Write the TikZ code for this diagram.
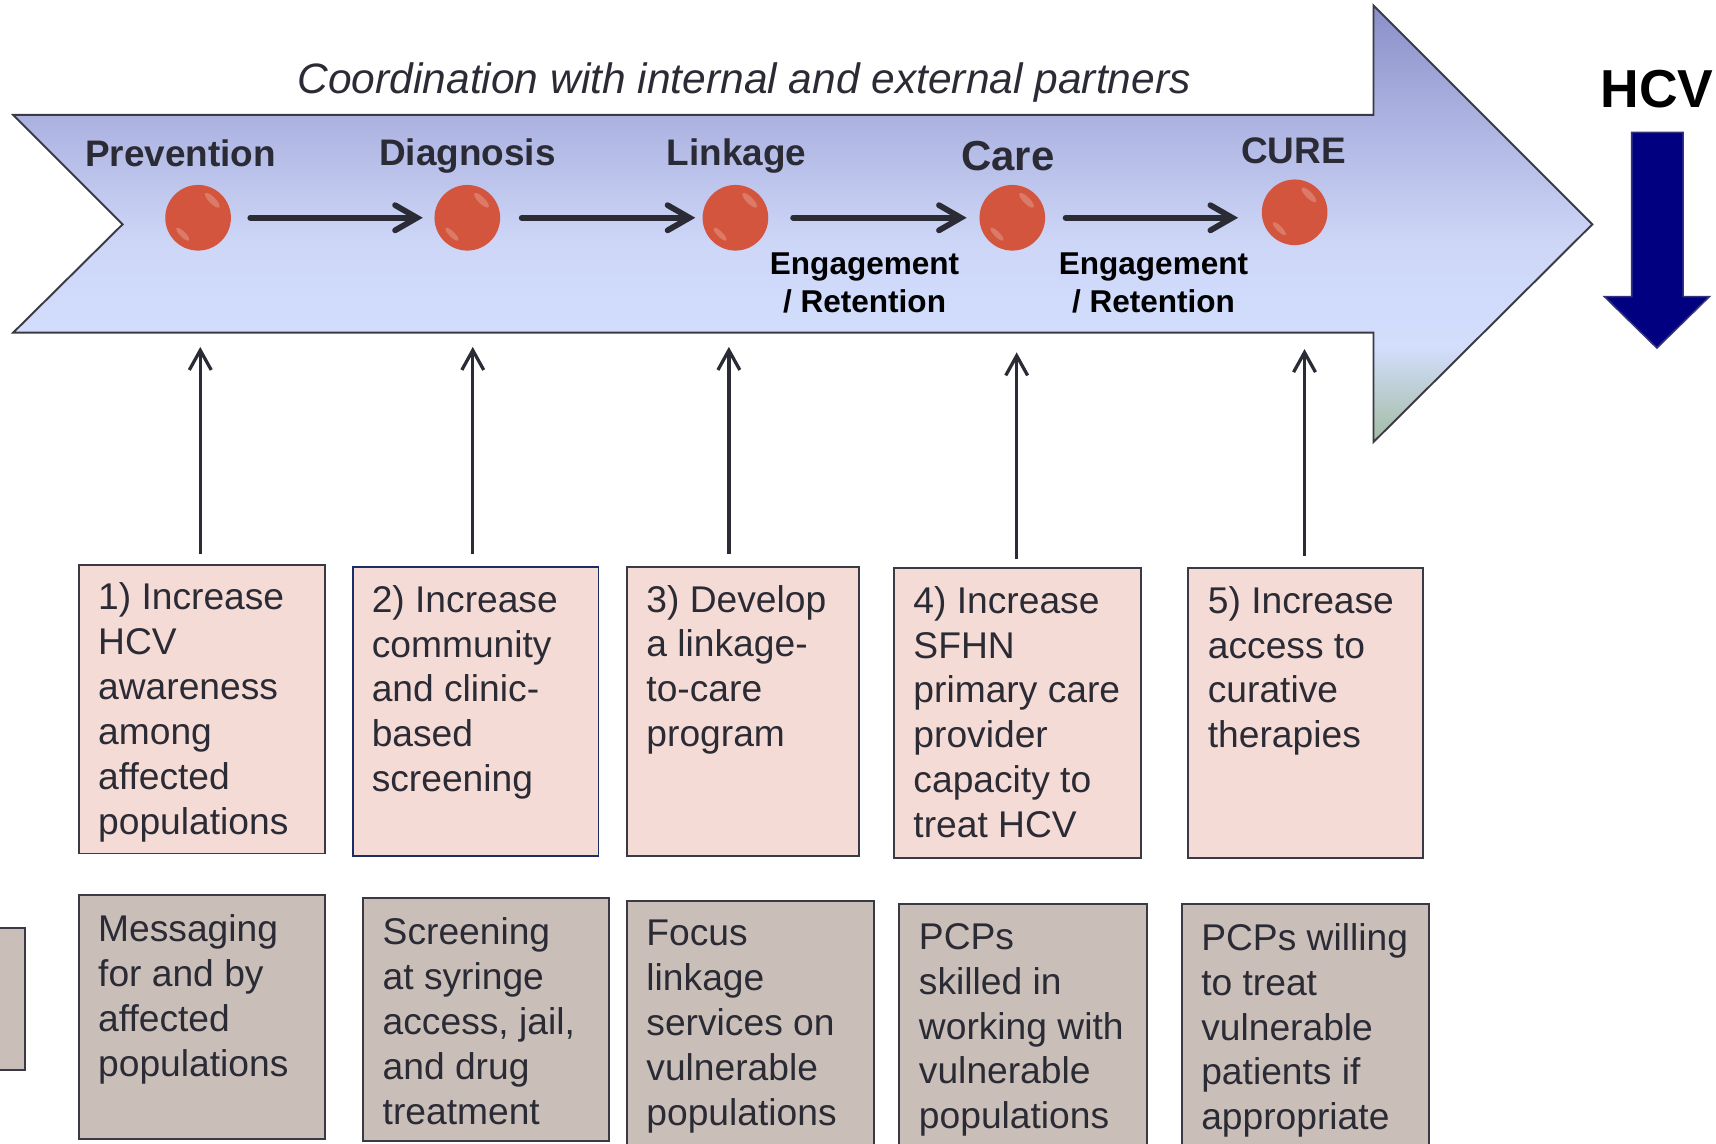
\documentclass[tikz,border=0pt]{standalone}
\usepackage{fontspec}
\setmainfont{Liberation Sans}
\usetikzlibrary{arrows.meta}
\definecolor{txt}{HTML}{2B2B35}
\definecolor{pinkf}{HTML}{F5DBD6}
\definecolor{grayf}{HTML}{C9BEB8}
\definecolor{edge}{HTML}{3A3A44}
\definecolor{navyb}{HTML}{1C2C6A}
\definecolor{ballc}{HTML}{D3553E}
\definecolor{hcvblue}{HTML}{000080}
\definecolor{agreen}{HTML}{A3BBA3}
\definecolor{alight}{HTML}{D3DEFD}
\definecolor{amid}{HTML}{CDD6F7}
\definecolor{aupper}{HTML}{AAB0DF}
\definecolor{atop}{HTML}{8A8FC8}
\pgfdeclareverticalshading{mainshade}{100bp}{color(0bp)=(agreen); color(25bp)=(agreen); color(36bp)=(alight); color(48bp)=(amid); color(63bp)=(aupper); color(75bp)=(atop); color(100bp)=(atop)}
\tikzset{
  boxtext/.style={font=\fontsize{9.67}{11.67}\selectfont, text=txt, align=left, inner sep=0pt, anchor=north west},
  pinkbox/.style={draw=edge, fill=pinkf, line width=0.5pt, inner sep=0pt, anchor=north west},
  graybox/.style={draw=edge, fill=grayf, line width=0.5pt, inner sep=0pt, anchor=north west},
  stage/.style={font=\bfseries\fontsize{9.6}{11}\selectfont, text=txt, inner sep=0pt, anchor=base},
  engage/.style={font=\bfseries\fontsize{8.2}{9.9}\selectfont, text=black, align=center, inner sep=0pt, anchor=north},
  ballnode/.style={circle, fill=ballc, minimum size=6mm, inner sep=0pt},
  gloss/.style={white, opacity=0.22},
  flow/.style={line width=1.5pt, draw=txt, line cap=round, -{Straight Barb[length=2mm,width=2.3mm,line cap=round]}},
  up/.style={line width=0.85pt, draw=txt, -{Straight Barb[length=1.8mm,width=2mm]}}
}
\begin{document}
\begin{tikzpicture}[x=0.1mm, y=-0.1mm]
\useasboundingbox (0,0) rectangle (1568,1045);
% main arrow
\shadedraw[shading=mainshade, draw=edge, line width=0.5pt, line join=miter]
  (12,105) -- (1255,105) -- (1255,5) -- (1455,205) -- (1255,404) -- (1255,304) -- (12,304) -- (112,205) -- cycle;
\node[font=\itshape\fontsize{11.05}{13}\selectfont, text=txt, inner sep=0pt, anchor=base] (coord) at (680,85) {Coordination with internal and external partners};
% stage labels
\node[stage] (lp) at (165,152) {Prevention};
\node[stage] (ld) at (427,151) {Diagnosis};
\node[stage] (ll) at (673,151) {Linkage};
\node[stage, font=\bfseries\fontsize{10.9}{12}\selectfont] (lc) at (921,156) {Care};
\node[stage] (lu) at (1182,149) {CURE};
% balls
\node[ballnode] (c1) at (181,199) {};
\node[ballnode] (c2) at (427,199) {};
\node[ballnode] (c3) at (672,199) {};
\node[ballnode] (c4) at (925,199) {};
\node[ballnode] (c5) at (1183,194) {};
\foreach \c in {c1,c2,c3,c4,c5}{
  \fill[gloss] ([shift={(13,-16)}]\c.center) circle [x radius=0.9mm, y radius=0.3mm, rotate=-45];
  \fill[gloss] ([shift={(-14,15)}]\c.center) circle [x radius=0.8mm, y radius=0.25mm, rotate=-45];
}
% flow arrows
\draw[flow, shorten <=1.7mm, shorten >=1mm] (c1) -- (c2);
\draw[flow, shorten <=1.9mm, shorten >=0.6mm] (c2) -- (c3);
\draw[flow, shorten <=2.2mm, shorten >=1.1mm] (c3) -- (c4);
\draw[flow, shorten <=1.8mm, shorten >=2.1mm] (c4.east) -- (c4.east -| c5.west);
% engagement labels
\node[engage] (e1) at (790,230) {Engagement\\/ Retention};
\node[engage] (e2) at (1054,230) {Engagement\\/ Retention};
% HCV
\node[font=\bfseries\fontsize{13.9}{15}\selectfont, text=black, inner sep=0pt, anchor=base] (hcv) at (1514,98) {HCV};
\filldraw[fill=hcvblue, draw=hcvblue!60!gray, line width=0.4pt]
  (1491,121) -- (1538,121) -- (1538,271) -- (1562,271) -- (1514,318) -- (1466,271) -- (1491,271) -- cycle;
% objective boxes
\node[pinkbox, minimum width=22.5mm, minimum height=26.4mm] (b1) at (71,515) {};
\node[pinkbox, draw=navyb, minimum width=22.4mm, minimum height=26.4mm] (b2) at (322,517) {};
\node[pinkbox, minimum width=21.2mm, minimum height=26.4mm] (b3) at (572,517) {};
\node[pinkbox, minimum width=22.6mm, minimum height=26.5mm] (b4) at (816,518) {};
\node[pinkbox, minimum width=21.4mm, minimum height=26.5mm] (b5) at (1085,518) {};
\node[boxtext] (t1) at ([shift={(18,17)}]b1.north west) {1) Increase\\HCV\\awareness\\among\\affected\\populations};
\node[boxtext] (t2) at ([shift={(17,17)}]b2.north west) {2) Increase\\community\\and clinic-\\based\\screening};
\node[boxtext] (t3) at ([shift={(18,17)}]b3.north west) {3) Develop\\a linkage-\\to-care\\program};
\node[boxtext] (t4) at ([shift={(18,17)}]b4.north west) {4) Increase\\SFHN\\primary care\\provider\\capacity to\\treat HCV};
\node[boxtext] (t5) at ([shift={(18,17)}]b5.north west) {5) Increase\\access to\\curative\\therapies};
% targets on arrow
\coordinate (a1) at (183,317);
\coordinate (a2) at (432,317);
\coordinate (a3) at (666,317);
\coordinate (a4) at (929,322);
\coordinate (a5) at (1192,319);
\draw[up, shorten <=0.9mm] (b1.north -| a1) -- (a1);
\draw[up, shorten <=1.1mm] (b2.north -| a2) -- (a2);
\draw[up, shorten <=1.1mm] (b3.north -| a3) -- (a3);
\draw[up, shorten <=0.7mm] (b4.north -| a4) -- (a4);
\draw[up, shorten <=1mm] (b5.north -| a5) -- (a5);
% activity boxes
\node[graybox, minimum width=3.2mm, minimum height=13mm] (g0) at (-10,847) {};
\node[graybox, minimum width=22.5mm, minimum height=22.3mm] (g1) at (71,817) {};
\node[graybox, minimum width=22.5mm, minimum height=22.2mm] (g2) at (331,820) {};
\node[graybox, minimum width=22.6mm, minimum height=24mm] (g3) at (572,822) {};
\node[graybox, minimum width=22.6mm, minimum height=24mm] (g4) at (821,825) {};
\node[graybox, minimum width=22.6mm, minimum height=24mm] (g5) at (1079,825) {};
\node[boxtext] (u1) at ([shift={(18,18)}]g1.north west) {Messaging\\for and by\\affected\\populations};
\node[boxtext] (u2) at ([shift={(18,18)}]g2.north west) {Screening\\at syringe\\access, jail,\\and drug\\treatment};
\node[boxtext] (u3) at ([shift={(18,18)}]g3.north west) {Focus\\linkage\\services on\\vulnerable\\populations};
\node[boxtext] (u4) at ([shift={(18,18)}]g4.north west) {PCPs\\skilled in\\working with\\vulnerable\\populations};
\node[boxtext] (u5) at ([shift={(18,18)}]g5.north west) {PCPs willing\\to treat\\vulnerable\\patients if\\appropriate};
\end{tikzpicture}
\end{document}
